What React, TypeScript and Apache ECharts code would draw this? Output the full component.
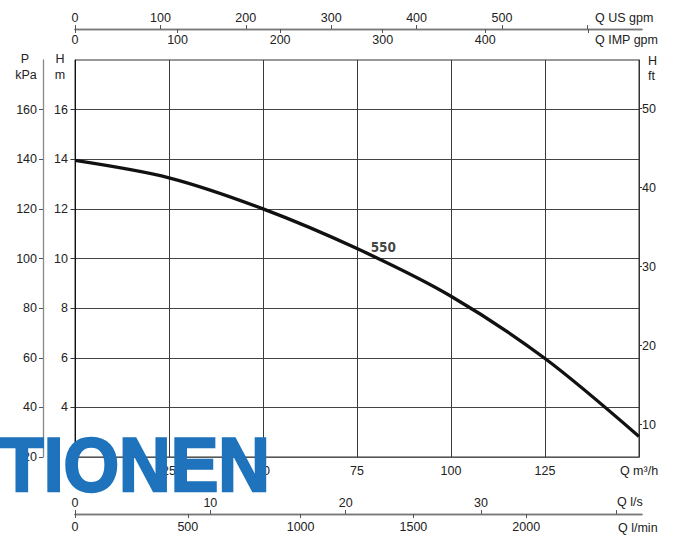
import React, { useEffect, useRef } from "react";
import * as echarts from "echarts";

// ---- data ----
const Q_M3H = [0, 25, 50, 75, 100, 125, 150];
const H_550 = [13.95, 13.25, 12.0, 10.4, 8.48, 5.97, 2.83];
const CURVE_NAME = "550";
const CURVE_LABEL_AT = [82, 10.45];

// ---- axis ranges / ticks ----
const Q_RANGE = [0, 150];
const Q_EXT = 150.8; // m3/h at the end of the secondary flow axes
const H_RANGE = [2, 18];
const P_RANGE = [20, 180];
const FT_RANGE = [5.89, 56.14];

const Q_LABELS = [0, 25, 50, 75, 100, 125, 150];
const H_M_LABELS = [4, 6, 8, 10, 12, 14, 16];
const P_KPA_LABELS = [20, 40, 60, 80, 100, 120, 140, 160];
const H_FT_LABELS = [10, 20, 30, 40, 50];
const US_GPM_TICKS = [0, 100, 200, 300, 400, 500, 600];
const US_GPM_LABELS = [0, 100, 200, 300, 400, 500];
const IMP_GPM_TICKS = [0, 100, 200, 300, 400, 500];
const IMP_GPM_LABELS = [0, 100, 200, 300, 400];
const LS_TICKS = [0, 10, 20, 30, 40];
const LS_LABELS = [0, 10, 20, 30];
const LMIN_TICKS = [0, 500, 1000, 1500, 2000];
const LMIN_LABELS = [0, 500, 1000, 1500, 2000];

// unit conversions per m3/h
const US_PER_M3H = 4.40287;
const IMP_PER_M3H = 3.66615;
const LS_PER_M3H = 1 / 3.6;
const LMIN_PER_M3H = 1000 / 60;

const FONT = '"Liberation Sans", Arial, Helvetica, sans-serif';
const TXT = "#222";
const plain = (v: number) => String(v);

function secAxis(gridIndex: number, pos: "top" | "bottom", max: number, ticks: number[], labels: number[], margin: number) {
  return {
    type: "value",
    gridIndex,
    position: pos,
    min: 0,
    max,
    axisLine: { show: true, lineStyle: { color: "#7a7a7a", width: 1.3 } },
    axisTick: { show: true, length: 4, inside: false, customValues: ticks, lineStyle: { color: "#555" } },
    axisLabel: { show: true, customValues: labels, margin, color: TXT, fontSize: 12.5, fontFamily: FONT, formatter: plain },
    splitLine: { show: false },
  };
}

function label(text: string, x: number, y: number, align = "left") {
  return {
    type: "text",
    x,
    y,
    z: 10,
    style: { text, fill: TXT, fontSize: 12.5, fontFamily: FONT, align, verticalAlign: "middle" },
  };
}

export default function App() {
  const ref = useRef<HTMLDivElement>(null);
  useEffect(() => {
    const chart = echarts.init(ref.current!, null, { renderer: "svg" });
    const curve = Q_M3H.map((q, i) => [q, H_550[i]]);
    chart.setOption({
      animation: false,
      backgroundColor: "#fff",
      textStyle: { fontFamily: FONT },
      grid: [
        { left: 75, top: 60, width: 564, height: 397, show: true, borderColor: "#333", borderWidth: 1 },
        { left: 75, top: 29, width: 567, height: 0 },
        { left: 75, top: 514, width: 567, height: 0 },
      ],
      xAxis: [
        {
          type: "value",
          gridIndex: 0,
          position: "bottom",
          min: Q_RANGE[0],
          max: Q_RANGE[1],
          interval: 25,
          axisLine: { show: true, lineStyle: { color: "#555", width: 1 } },
          axisTick: { show: false },
          axisLabel: {
            customValues: Q_LABELS,
            margin: 7,
            color: TXT,
            fontSize: 12.5,
            fontFamily: FONT,
            formatter: (v: number) => (v === Q_RANGE[1] ? "Q m³/h" : String(v)),
          },
          splitLine: { show: true, lineStyle: { color: "#3a3a3a", width: 1 } },
        },
        secAxis(1, "top", Q_EXT * US_PER_M3H, US_GPM_TICKS, US_GPM_LABELS, 5),
        secAxis(1, "bottom", Q_EXT * IMP_PER_M3H, IMP_GPM_TICKS, IMP_GPM_LABELS, 4),
        secAxis(2, "top", Q_EXT * LS_PER_M3H, LS_TICKS, LS_LABELS, 5),
        secAxis(2, "bottom", Q_EXT * LMIN_PER_M3H, LMIN_TICKS, LMIN_LABELS, 6),
      ],
      yAxis: [
        {
          type: "value",
          gridIndex: 0,
          position: "left",
          min: H_RANGE[0],
          max: H_RANGE[1],
          interval: 2,
          axisLine: { show: true, lineStyle: { color: "#111", width: 1 } },
          axisTick: { show: true, length: 4.5, customValues: H_M_LABELS, lineStyle: { color: "#333" } },
          axisLabel: { customValues: H_M_LABELS, margin: 7, color: TXT, fontSize: 12.5, fontFamily: FONT, formatter: plain },
          splitLine: { show: true, lineStyle: { color: "#444", width: 1 } },
        },
        {
          type: "value",
          gridIndex: 0,
          position: "left",
          offset: 32,
          min: P_RANGE[0],
          max: P_RANGE[1],
          interval: 20,
          axisLine: { show: true, lineStyle: { color: "#888", width: 1.3 } },
          axisTick: { show: true, length: 4, customValues: P_KPA_LABELS, lineStyle: { color: "#555" } },
          axisLabel: { customValues: P_KPA_LABELS, margin: 6, color: TXT, fontSize: 12.5, fontFamily: FONT, formatter: plain },
          splitLine: { show: false },
        },
        {
          type: "value",
          gridIndex: 0,
          position: "right",
          min: FT_RANGE[0],
          max: FT_RANGE[1],
          axisLine: { show: true, lineStyle: { color: "#333", width: 1 } },
          axisTick: { show: true, length: 3, customValues: H_FT_LABELS, lineStyle: { color: "#333" } },
          axisLabel: { customValues: H_FT_LABELS, margin: 3, color: TXT, fontSize: 12.5, fontFamily: FONT, formatter: plain },
          splitLine: { show: false },
        },
        { type: "value", gridIndex: 1, show: false },
        { type: "value", gridIndex: 2, show: false },
      ],
      series: [
        {
          type: "line",
          name: CURVE_NAME,
          xAxisIndex: 0,
          yAxisIndex: 0,
          data: curve,
          smooth: 0.3,
          symbol: "none",
          lineStyle: { color: "#111", width: 3.3 },
          z: 5,
        },
        {
          type: "scatter",
          xAxisIndex: 0,
          yAxisIndex: 0,
          data: [CURVE_LABEL_AT],
          symbolSize: 1,
          itemStyle: { color: "rgba(0,0,0,0)" },
          label: {
            show: true,
            position: "inside",
            formatter: CURVE_NAME,
            color: "#111",
            fontWeight: "bold",
            fontSize: 13.5,
            fontFamily: '"Liberation Sans Narrow", "DejaVu Sans Condensed", "Liberation Sans", Arial, sans-serif',
          },
          z: 6,
        },
      ],
      graphic: [
        label("P", 25, 59, "center"),
        label("kPa", 26, 75, "center"),
        label("H", 60, 59, "center"),
        label("m", 60, 75, "center"),
        label("H", 648, 61),
        label("ft", 648, 76),
        label("Q US gpm", 595, 17.5),
        label("Q IMP gpm", 595, 40),
        label("Q l/s", 617, 502),
        label("Q l/min", 618, 528),
        {
          type: "text",
          x: 0,
          y: 464.5,
          scaleX: 0.94,
          z: 100,
          style: {
            text: "TIONEN",
            fill: "#1e73bc",
            stroke: "#1e73bc",
            lineWidth: 2.5,
            fontSize: 76,
            fontWeight: "bold",
            fontFamily: FONT,
            align: "left",
            verticalAlign: "middle",
          },
        },
      ],
    });
    return () => chart.dispose();
  }, []);
  return <div ref={ref} style={{ position: "fixed", left: 0, top: 0, width: 676, height: 536 }} />;
}
